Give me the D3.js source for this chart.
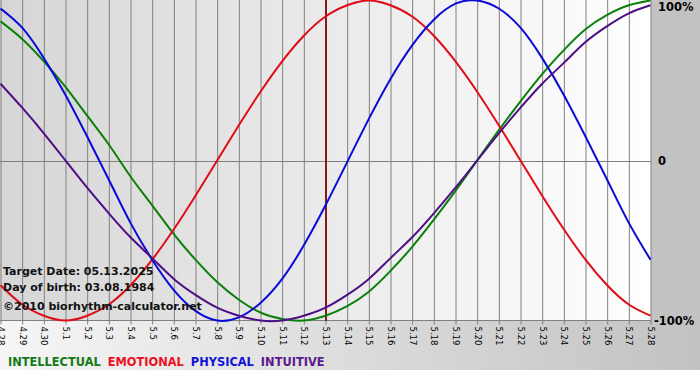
<!DOCTYPE html>
<html>
<head>
<meta charset="utf-8">
<script src="https://cdn.jsdelivr.net/npm/d3@7"></script>
<style>
  body { margin: 0; background: #fff; }
  text { font-family: "DejaVu Sans", Verdana, sans-serif; }
</style>
</head>
<body>
<div id="chart"></div>
<script>
// day labels (4.28 ... 5.28)
var days = ["4.28","4.29","4.30","5.1","5.2","5.3","5.4","5.5","5.6","5.7","5.8","5.9","5.10",
  "5.11","5.12","5.13","5.14","5.15","5.16","5.17","5.18","5.19","5.20","5.21","5.22","5.23",
  "5.24","5.25","5.26","5.27","5.28"];

// values, -1 .. 1
var intellectual = [0.87,0.76,0.62,0.46,0.28,0.10,-0.10,-0.28,-0.46,-0.62,-0.76,-0.87,-0.95,-0.99,-1.00,
  -0.97,-0.91,-0.82,-0.69,-0.54,-0.37,-0.19,0.00,0.19,0.37,0.54,0.69,0.82,0.91,0.97,1.00];
var emotional = [-0.78,-0.90,-0.97,-1.00,-0.97,-0.90,-0.78,-0.62,-0.43,-0.22,0.00,0.22,0.43,0.62,0.78,
  0.90,0.97,1.00,0.97,0.90,0.78,0.62,0.43,0.22,0.00,-0.22,-0.43,-0.62,-0.78,-0.90,-0.97];
var physical = [0.95,0.83,0.64,0.41,0.15,-0.12,-0.39,-0.62,-0.81,-0.94,-1.00,-0.98,-0.89,-0.74,-0.53,
  -0.28,-0.01,0.26,0.51,0.72,0.88,0.98,1.00,0.95,0.83,0.64,0.41,0.15,-0.12,-0.39,-0.62];
var intuitive = [0.48,0.33,0.17,0.00,-0.17,-0.33,-0.48,-0.61,-0.74,-0.84,-0.92,-0.97,-1.00,-1.00,-0.97,
  -0.92,-0.84,-0.74,-0.61,-0.48,-0.33,-0.17,0.00,0.17,0.33,0.48,0.61,0.74,0.84,0.92,0.97];

var yTicks = [1, 0, -1];
var yTickLabels = ["100%", "0", "-100%"];
var targetDay = "5.13";

var seriesNames = ["INTELLECTUAL", "EMOTIONAL", "PHYSICAL", "INTUITIVE"];
var seriesColors = ["#0a800a", "#e00c18", "#0a0ad8", "#4e0e86"];
var legendColors = ["#157a15", "#ee1020", "#1212d8", "#5a1a8c"];

var svgWidth = 700;
var svgHeight = 380;
var plotW = 651;
var plotH = 321;

var svg = d3.select("#chart")
    .append("svg")
    .attr("width", svgWidth)
    .attr("height", svgHeight);

var defs = svg.append("defs");
var g1 = defs.append("linearGradient").attr("id", "plotBg");
g1.append("stop").attr("offset", "0%").attr("stop-color", "#d6d6d6");
g1.append("stop").attr("offset", "100%").attr("stop-color", "#ffffff");
var g2 = defs.append("linearGradient").attr("id", "stripBg");
g2.append("stop").attr("offset", "0%").attr("stop-color", "#f6f6f6");
g2.append("stop").attr("offset", "100%").attr("stop-color", "#c2c2c2");

// backgrounds
svg.append("rect").attr("x", 0).attr("y", 0).attr("width", svgWidth).attr("height", 370)
    .attr("fill", "url(#stripBg)");
svg.append("rect").attr("x", plotW).attr("y", 0).attr("width", svgWidth - plotW).attr("height", plotH)
    .attr("fill", "#c2c2c2");
svg.append("rect").attr("x", 0).attr("y", 0).attr("width", plotW).attr("height", plotH)
    .attr("fill", "url(#plotBg)");

var xScale = d3.scaleLinear().domain([0, days.length - 1]).range([0.5, plotW - 0.5]);
var yScale = d3.scaleLinear().domain([-1, 1]).range([plotH - 0.5, 0.5]);

// bottom axis + vertical grid
var xAxis = svg.append("g")
    .attr("transform", `translate(0,${plotH - 0.5})`)
    .call(d3.axisBottom(xScale)
        .tickValues(d3.range(days.length))
        .tickFormat(i => days[i])
        .tickSize(4));
xAxis.select(".domain").attr("stroke", "#808080").attr("d", `M0,0H${plotW}`);
xAxis.selectAll(".tick line")
    .attr("stroke", "#808080")
    .attr("y1", -plotH)
    .attr("y2", 4);
xAxis.selectAll(".tick text")
    .attr("transform", "rotate(90)")
    .attr("x", 6)
    .attr("y", 0)
    .attr("dy", "0.35em")
    .attr("text-anchor", "start")
    .attr("fill", "#000")
    .style("font-size", "8.5px")
    .style("font-family", "'DejaVu Sans', Verdana, sans-serif");

// zero line
svg.append("line")
    .attr("x1", 0).attr("x2", plotW)
    .attr("y1", Math.round(yScale(0)) + 0.5).attr("y2", Math.round(yScale(0)) + 0.5)
    .attr("stroke", "#808080");

// right labels
svg.selectAll(".ylab")
    .data(yTicks)
    .enter()
    .append("text")
    .attr("class", "ylab")
    .attr("x", (d, i) => i == 2 ? 654 : 658)
    .attr("y", d => Math.min(Math.max(yScale(d), 7), 321))
    .attr("dy", "0.35em")
    .style("font-size", "11.5px")
    .style("font-weight", "bold")
    .text((d, i) => yTickLabels[i]);

// target date line
var tx = Math.round(xScale(days.indexOf(targetDay)));
svg.append("line")
    .attr("x1", tx).attr("x2", tx)
    .attr("y1", 0).attr("y2", plotH)
    .attr("stroke", "#8a1a1a")
    .attr("stroke-width", 2);

// curves
var allSeries = [intellectual, emotional, physical, intuitive];
var line = d3.line()
    .x((d, i) => xScale(i))
    .y(d => yScale(d))
    .curve(d3.curveNatural);

svg.append("g")
    .selectAll("path")
    .data(allSeries)
    .enter()
    .append("path")
    .attr("d", line)
    .attr("fill", "none")
    .attr("stroke", (d, i) => seriesColors[i])
    .attr("stroke-width", 2);

// info text
var info = ["Target Date: 05.13.2025", "Day of birth: 03.08.1984", "\u00a92010 biorhythm-calculator.net"];
var infoY = [275, 291, 310];
svg.selectAll(".info")
    .data(info)
    .enter()
    .append("text")
    .attr("class", "info")
    .attr("x", 3)
    .attr("y", (d, i) => infoY[i])
    .style("font-size", "11px")
    .style("font-weight", "bold")
    .attr("fill", "#111")
    .text(d => d);

// legend
var lx = 8;
seriesNames.forEach(function(name, i) {
    var t = svg.append("text")
        .attr("x", lx)
        .attr("y", 366)
        .style("font-size", "11.4px")
        .style("font-weight", "bold")
        .attr("fill", legendColors[i])
        .text(name);
    lx += t.node().getComputedTextLength() + 7;
});
</script>
</body>
</html>
